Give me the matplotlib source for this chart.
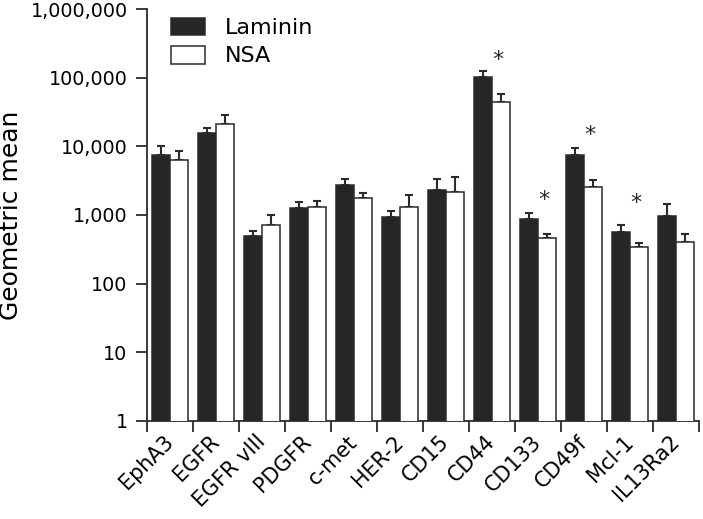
import numpy
from matplotlib import pyplot as plt
from matplotlib.patches import Patch
from matplotlib.ticker import NullLocator, FixedLocator
from matplotlib.transforms import ScaledTranslation

# values (geometric mean, upward error)
markers = ["EphA3", "EGFR", "EGFR vIII", "PDGFR", "c-met", "HER-2",
           "CD15", "CD44", "CD133", "CD49f", "Mcl-1", "IL13Ra2"]
laminin = [7600, 15500, 490, 1250, 2750, 920, 2300, 103000, 880, 7400, 570, 960]
laminin_err = [2500, 2800, 90, 310, 650, 240, 1000, 23000, 200, 2050, 140, 510]
nsa = [6400, 21400, 720, 1330, 1760, 1320, 2200, 44000, 465, 2550, 336, 400]
nsa_err = [2300, 7600, 265, 280, 300, 670, 1360, 14000, 67, 640, 57, 125]

# significance stars: marker name and height of the star
star_markers = ["CD44", "CD133", "CD49f", "Mcl-1"]
star_levels = [210000, 1910, 16900, 1730]

yticks = [1, 10, 100, 1000, 10000, 100000, 1000000]
yticklabels = ["1", "10", "100", "1,000", "10,000", "100,000", "1,000,000"]

dark = "#262626"
edge = "#2b2b2b"

plt.rcParams['font.family'] = ['DejaVu Sans']
fig = plt.figure(figsize=(7.03, 5.19), dpi=100)
ax = fig.add_axes([147/703, (519-420.7)/519, 552/703, 411.4/519])

x = numpy.arange(len(markers)) + 0.5
w = 0.4
lam = numpy.array(laminin, dtype=float)
ns = numpy.array(nsa, dtype=float)

ax.bar(x - w/2, lam, w, color=dark, edgecolor=edge, linewidth=1.1, zorder=3)
ax.bar(x + w/2, ns, w, color="white", edgecolor=edge, linewidth=1.1, zorder=3)
ax.errorbar(x - w/2, lam, yerr=[numpy.zeros_like(lam), laminin_err], fmt="none",
            ecolor=edge, elinewidth=1.5, capsize=3.2, capthick=1.5, zorder=2)
ax.errorbar(x + w/2, ns, yerr=[numpy.zeros_like(ns), nsa_err], fmt="none",
            ecolor=edge, elinewidth=1.5, capsize=3.2, capthick=1.5, zorder=2)

for name, lev in zip(star_markers, star_levels):
    i = markers.index(name)
    ax.annotate("*", (x[i] + 0.12, lev), xytext=(0, -3), textcoords="offset points",
                ha="center", va="center", fontsize=16, color=edge)

ax.set_yscale("log")
ax.set_ylim(1, 1000000)
ax.set_xlim(0, len(markers))
ax.yaxis.set_major_locator(FixedLocator(yticks))
ax.yaxis.set_minor_locator(NullLocator())
ax.set_yticklabels(yticklabels)

# ticks on group boundaries, labels at group centres
ax.set_xticks(numpy.arange(len(markers) + 1))
ax.set_xticklabels([])
ax.set_xticks(x, minor=True)
ax.set_xticklabels(markers, minor=True, rotation=45, ha="right", va="center",
                   rotation_mode="anchor", fontsize=15)
shift = ScaledTranslation(9/100, 0, fig.dpi_scale_trans)
for lab in ax.get_xticklabels(minor=True):
    lab.set_transform(lab.get_transform() + shift)
ax.tick_params(axis="x", which="major", length=8, width=1.3, color=edge)
ax.tick_params(axis="x", which="minor", length=0, pad=13)
ax.tick_params(axis="y", length=8, width=1.3, color=edge, labelsize=13.8, pad=6)

for s in ["top", "right"]:
    ax.spines[s].set_visible(False)
for s in ["left", "bottom"]:
    ax.spines[s].set_linewidth(1.3)
    ax.spines[s].set_color(edge)

ax.set_ylabel("Geometric mean", fontsize=18)
ax.yaxis.set_label_coords(-0.224, 0.5)

handles = [Patch(facecolor=dark, edgecolor=edge, linewidth=1.1, label="Laminin"),
           Patch(facecolor="white", edgecolor=edge, linewidth=1.1, label="NSA")]
ax.legend(handles=handles, loc="upper left", bbox_to_anchor=(0.043, 0.98), frameon=False,
          fontsize=16, handlelength=1.55, handleheight=0.85, labelspacing=0.35,
          handletextpad=0.9, borderpad=0, borderaxespad=0)

plt.savefig("out.png", dpi=100)
